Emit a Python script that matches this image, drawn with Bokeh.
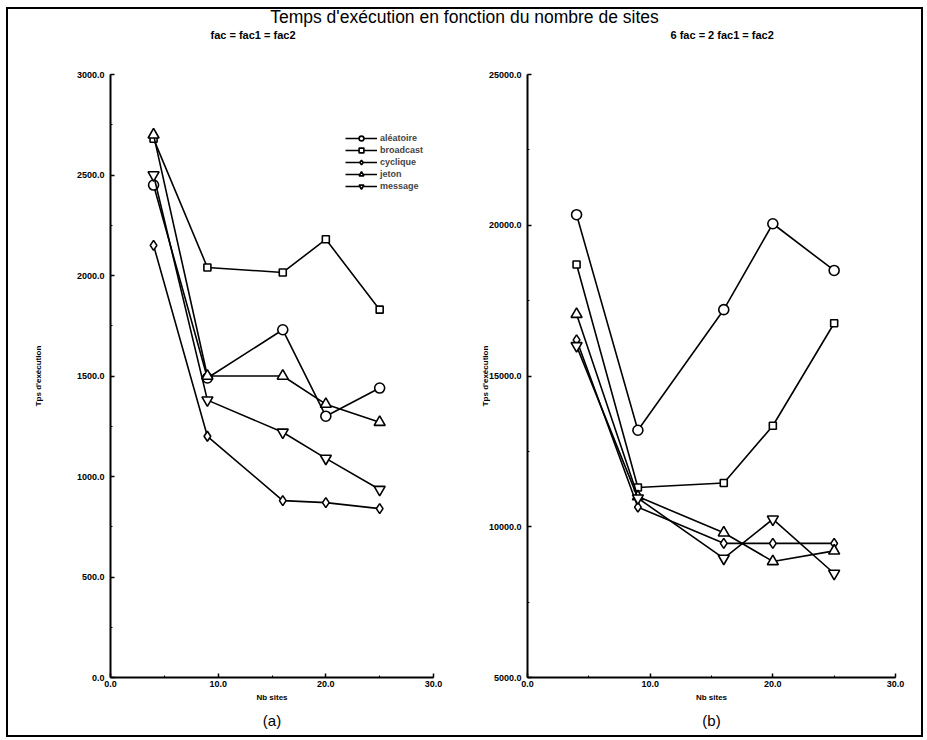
from bokeh.plotting import figure
from bokeh.models import (Div, Legend, LegendItem, Title, Range1d,
                          SingleIntervalTicker, PrintfTickFormatter)
from bokeh.layouts import column, row
from bokeh.embed import file_html
from bokeh.resources import INLINE

# ---------------- data ----------------
sites = [4, 9, 16, 20, 25]
series_names = ["aléatoire", "broadcast", "cyclique", "jeton", "message"]
markers = ["circle", "square", "diamond", "triangle", "inverted_triangle"]
marker_sizes = [10, 7, 10, 11, 11]

# (a) fac = fac1 = fac2
a_aleatoire = [2450, 1490, 1730, 1300, 1440]
a_broadcast = [2680, 2040, 2015, 2180, 1830]
a_cyclique = [2150, 1200, 880, 870, 840]
a_jeton = [2700, 1500, 1500, 1360, 1270]
a_message = [2500, 1380, 1220, 1090, 935]

# (b) 6 fac = 2 fac1 = fac2
b_aleatoire = [20350, 13200, 17200, 20050, 18500]
b_broadcast = [18700, 11300, 11450, 13350, 16750]
b_cyclique = [16200, 10650, 9450, 9450, 9450]
b_jeton = [17050, 11000, 9800, 8850, 9200]
b_message = [16000, 10950, 8950, 10250, 8450]

main_title = "Temps d'exécution en fonction du nombre de sites"
FONT = "Liberation Sans"


def make_fig(width, min_left, min_right, y0, y1, y_int, subtitle, sub_off,
             caption, label_standoff, data, legend=False):
    p = figure(width=width, height=714, output_backend="svg",
               toolbar_location=None, x_range=Range1d(0, 30),
               y_range=Range1d(y0, y1), min_border_left=min_left,
               min_border_right=min_right, min_border_top=52,
               min_border_bottom=58)
    p.outline_line_color = None
    p.grid.visible = False
    p.background_fill_color = None
    p.border_fill_color = None

    # subtitle (outermost above) with an empty spacer between it and the frame
    p.title = Title(text=subtitle, align="left", offset=sub_off,
                    text_font=FONT, text_font_size="11px",
                    text_font_style="bold", text_color="black")
    p.add_layout(Title(text=" ", text_font_size="15px"), "above")
    # caption below the x axis
    p.add_layout(Title(text=caption, align="center", text_font=FONT,
                       text_font_size="15px", text_font_style="normal",
                       text_color="black"), "below")

    p.xaxis.ticker = SingleIntervalTicker(interval=10, num_minor_ticks=2)
    p.yaxis.ticker = SingleIntervalTicker(interval=y_int, num_minor_ticks=2)
    for ax in (p.xaxis, p.yaxis):
        ax.formatter = PrintfTickFormatter(format="%.1f")
        ax.axis_line_width = 2
        ax.axis_line_color = "black"
        ax.major_tick_in = 4
        ax.major_tick_out = 0
        ax.minor_tick_in = 2
        ax.minor_tick_out = 0
        ax.major_tick_line_width = 1.5
        ax.major_label_text_font = FONT
        ax.major_label_text_font_size = "9px"
        ax.major_label_text_font_style = "bold"
        ax.major_label_text_color = "black"
        ax.axis_label_text_font = FONT
        ax.axis_label_text_font_size = "8px"
        ax.axis_label_text_font_style = "bold"
        ax.axis_label_text_color = "black"
    p.xaxis.axis_label = "Nb sites"
    p.xaxis.major_label_standoff = 3
    p.xaxis.axis_label_standoff = 3
    p.yaxis.axis_label = "Tps d'exécution"
    p.yaxis.major_label_standoff = 6
    p.yaxis.axis_label_standoff = label_standoff

    items = []
    for name, mk, ms, ys in zip(series_names, markers, marker_sizes, data):
        ln = p.line(sites, ys, line_color="black", line_width=1.6)
        sc = p.scatter(sites, ys, marker=mk, size=ms, line_color="black",
                       line_width=1.6, fill_color="white")
        items.append(LegendItem(label=name, renderers=[ln, sc]))
    if legend:
        lg = Legend(items=items, location=(235, 485), glyph_width=32,
                    glyph_height=12, label_height=12, spacing=0, padding=0,
                    margin=0, label_standoff=3, border_line_color=None,
                    background_fill_alpha=0, label_text_font=FONT,
                    label_text_font_size="9px", label_text_font_style="bold")
        p.add_layout(lg, "center")
    return p


p1 = make_fig(460, 102, 35, 0, 3000, 500, "fac = fac1 = fac2", 100, "(a)", 31,
              [a_aleatoire, a_broadcast, a_cyclique, a_jeton, a_message],
              legend=True)
p2 = make_fig(453, 59, 26, 5000, 25000, 5000, "6 fac = 2 fac1 = fac2", 143,
              "(b)", -4,
              [b_aleatoire, b_broadcast, b_cyclique, b_jeton, b_message])

div = Div(text=main_title, width=913, height=12, margin=0,
          styles={"text-align": "center", "font-family": FONT,
                  "font-size": "17.5px", "line-height": "16px",
                  "color": "black", "overflow": "visible"})

layout = column(div, row(p1, p2),
                styles={"border": "2px solid black",
                        "background-color": "white",
                        "margin-left": "6px", "margin-top": "7px"})

open("out.html", "w").write(file_html(layout, INLINE))
